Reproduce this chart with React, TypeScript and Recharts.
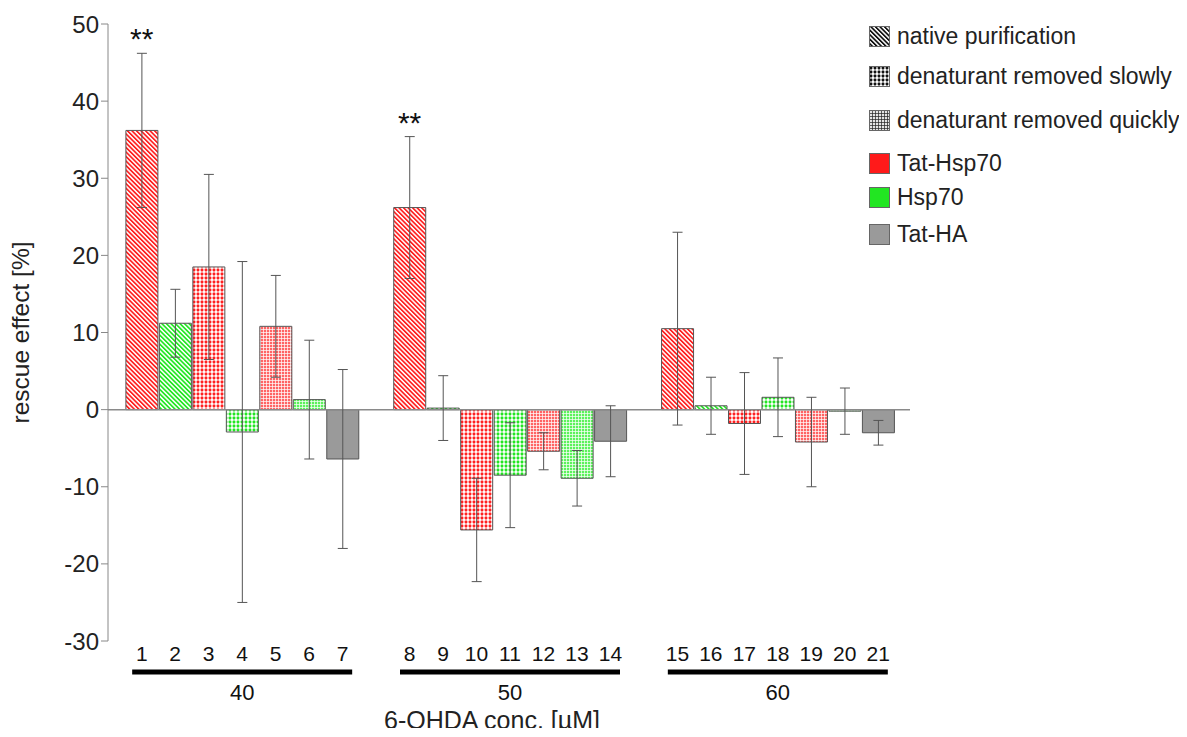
import React from 'react'
import { ComposedChart, Bar, Line, XAxis, YAxis, ErrorBar, ReferenceLine, Cell, LabelList } from 'recharts'

const SANS = '"Liberation Sans", Arial, sans-serif'
const NARROW = '"Liberation Sans Narrow", "Arial Narrow", sans-serif'

// 21 samples, three 6-OHDA concentrations with 7 preparations each
const sampleLabels = ['1', '2', '3', '4', '5', '6', '7', '8', '9', '10', '11', '12', '13', '14', '15', '16', '17', '18', '19', '20', '21']
const rescueMeans = [36.2, 11.2, 18.5, -2.9, 10.8, 1.3, -6.4, 26.2, 0.2, -15.6, -8.5, -5.4, -8.9, -4.1, 10.5, 0.5, -1.8, 1.6, -4.2, -0.2, -3.0]
const rescueErrors = [10.0, 4.4, 12.0, 22.1, 6.6, 7.7, 11.6, 9.2, 4.2, 6.7, 6.8, 2.4, 3.6, 4.6, 12.5, 3.7, 6.6, 5.1, 5.8, 3.0, 1.6]
const concentrations = ['40', '50', '60']
const proteins = ['Tat-Hsp70', 'Hsp70', 'Tat-Hsp70', 'Hsp70', 'Tat-Hsp70', 'Hsp70', 'Tat-HA']
const preparations = ['native', 'native', 'slow', 'slow', 'quick', 'quick', 'none']
const significant = ['1', '8']
const yTicks = [-30, -20, -10, 0, 10, 20, 30, 40, 50]

const legendPreparations = [
  { key: 'native', label: 'native purification' },
  { key: 'slow', label: 'denaturant removed slowly' },
  { key: 'quick', label: 'denaturant removed quickly' },
]
const legendProteins = [
  { key: 'Tat-Hsp70', label: 'Tat-Hsp70' },
  { key: 'Hsp70', label: 'Hsp70' },
  { key: 'Tat-HA', label: 'Tat-HA' },
]

type Row = {
  label: string
  mean: number | null
  err: number | null
  protein: string
  prep: string
  conc: string
  pos: number
  starTop: number | null
  star: string
}

// one blank category between the concentration groups
const rows: Row[] = []
concentrations.forEach((conc, g) => {
  if (g > 0) rows.push({ label: '', mean: null, err: null, protein: '', prep: '', conc: '', pos: -1, starTop: null, star: '' })
  proteins.forEach((protein, p) => {
    const i = g * proteins.length + p
    const sig = significant.includes(sampleLabels[i])
    rows.push({
      label: sampleLabels[i],
      mean: rescueMeans[i],
      err: rescueErrors[i],
      protein,
      prep: preparations[p],
      conc,
      pos: p,
      starTop: sig ? rescueMeans[i] + rescueErrors[i] : null,
      star: sig ? '**' : '',
    })
  })
})

const solid: Record<string, string> = { 'Tat-Hsp70': '#ff1a1a', 'Hsp70': '#22e622', 'Tat-HA': '#9a9a9a' }

function fillFor(r: Row) {
  if (r.protein === 'Tat-HA') return solid['Tat-HA']
  return `url(#${r.prep}-${r.protein === 'Hsp70' ? 'g' : 'r'})`
}

function Patterns({ suffix, ink, soft, line }: { suffix: string; ink: string; soft: string; line: string }) {
  return (
    <>
      <pattern id={`native-${suffix}`} width="3.2" height="3.2" patternUnits="userSpaceOnUse" patternTransform="rotate(-45)">
        <rect width="3.2" height="3.2" fill="#fff" />
        <rect width="1.7" height="3.2" fill={ink} />
      </pattern>
      <pattern id={`slow-${suffix}`} width="4" height="4" patternUnits="userSpaceOnUse">
        <rect width="4" height="4" fill="#fff" />
        <rect x="0.6" y="0.6" width="2.8" height="2.8" rx="0.8" fill={ink} />
      </pattern>
      <pattern id={`quick-${suffix}`} width="3" height="3" patternUnits="userSpaceOnUse">
        <rect width="3" height="3" fill={soft} />
        <rect width="3" height="0.7" fill={line} />
        <rect width="0.7" height="3" fill={line} />
      </pattern>
    </>
  )
}

function SampleTick(props: any) {
  const { x, y, payload } = props
  const row = rows.find((r) => r.label !== '' && r.label === payload.value)
  return (
    <g>
      <text x={x} y={y + 12} textAnchor="middle" dominantBaseline="central" fontFamily={NARROW} fontSize={21} fill="#111">
        {payload.value}
      </text>
      {row && row.pos === 3 && (
        <>
          <rect x={x - 110} y={y + 28.5} width={220} height={5} fill="#000" />
          <text x={x} y={y + 51} textAnchor="middle" dominantBaseline="central" fontFamily={NARROW} fontSize={22} fill="#111">
            {row.conc}
          </text>
        </>
      )}
    </g>
  )
}

function StarLabel(props: any) {
  const { x, y, value } = props
  if (!value || y == null) return null
  return (
    <text x={x} y={y - 4} textAnchor="middle" fontFamily={SANS} fontSize={30} fill="#111">
      {value}
    </text>
  )
}

function Swatch({ fill }: { fill: string }) {
  return (
    <svg width={21} height={21} style={{ display: 'block' }}>
      <defs>
        <Patterns suffix="k" ink="#111" soft="#e4e4e4" line="#222" />
      </defs>
      <rect x={0.5} y={0.5} width={20} height={20} fill={fill} stroke="#666" />
    </svg>
  )
}

const legendTops = [28, 68, 112, 155, 189, 226]

export default function App() {
  const legendItems = [
    ...legendPreparations.map((d) => ({ label: d.label, fill: `url(#${d.key}-k)` })),
    ...legendProteins.map((d) => ({ label: d.label, fill: solid[d.key] })),
  ]
  return (
    <div style={{ position: 'relative', width: 1170, height: 729, marginBottom: -9, fontFamily: SANS }}>
      <ComposedChart width={1170} height={729} data={rows} margin={{ top: 16, right: 268, left: 0, bottom: 0 }} barCategoryGap={0.9}>
        <defs>
          <Patterns suffix="r" ink="#ff2020" soft="#ff6464" line="#fff" />
          <Patterns suffix="g" ink="#22e622" soft="#5cf25c" line="#fff" />
        </defs>
        <YAxis
          domain={[-30, 50]}
          ticks={yTicks}
          width={100}
          tickSize={7}
          tickMargin={2}
          axisLine={{ stroke: '#888' }}
          tickLine={{ stroke: '#888' }}
          tick={{ fill: '#222', fontSize: 24, fontFamily: SANS }}
          label={{ value: 'rescue effect [%]', angle: -90, position: 'insideLeft', offset: 12, style: { textAnchor: 'middle', fontSize: 24.5, fontFamily: SANS, fill: '#222' } }}
        />
        <XAxis
          dataKey="label"
          interval={0}
          axisLine={false}
          tickLine={false}
          tickSize={0}
          tickMargin={0}
          height={96}
          padding={{ left: 17, right: 15 }}
          tick={(p: any) => <SampleTick {...p} />}
          label={{
            content: (p: any) => {
              const vb = p.viewBox
              return (
                <text x={vb.x + vb.width / 2 - 17} y={vb.y + 79} textAnchor="middle" dominantBaseline="central" fontFamily={NARROW} fontSize={25} fill="#222">
                  6-OHDA conc. [µM]
                </text>
              )
            },
          }}
        />
        <ReferenceLine y={0} stroke="#8a8a8a" strokeWidth={1.5} />
        <Bar dataKey="mean" stroke="#555" strokeWidth={1} isAnimationActive={false}>
          {rows.map((r, i) => (
            <Cell key={i} fill={fillFor(r)} />
          ))}
          <ErrorBar dataKey="err" width={5} stroke="#555" strokeWidth={1} />
        </Bar>
        <Line dataKey="starTop" stroke="none" dot={false} activeDot={false} isAnimationActive={false}>
          <LabelList dataKey="star" content={(p: any) => <StarLabel {...p} />} />
        </Line>
      </ComposedChart>
      {legendItems.map((d, i) => (
        <div key={d.label} style={{ position: 'absolute', left: 861, top: legendTops[i] - 11, display: 'flex', alignItems: 'center', height: 22 }}>
          <Swatch fill={d.fill} />
          <span style={{ marginLeft: 7, fontSize: 23, color: '#222', whiteSpace: 'nowrap', lineHeight: '22px' }}>{d.label}</span>
        </div>
      ))}
    </div>
  )
}
